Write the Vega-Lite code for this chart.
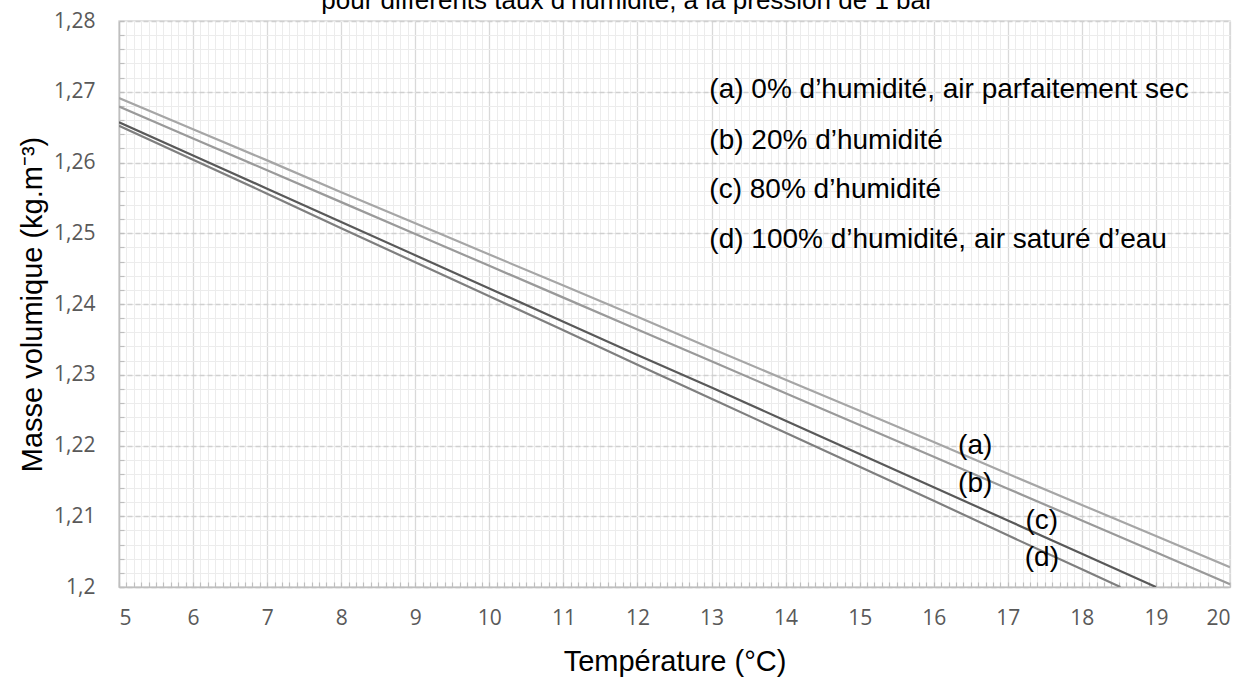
{
  "$schema": "https://vega.github.io/schema/vega-lite/v6.json",
  "autosize": {"type": "none"},
  "width": 1111,
  "height": 566,
  "padding": {"left": 119, "top": 21, "right": 21, "bottom": 95},
  "background": "white",
  "title": {
    "text": "pour différents taux d’humidité, à la pression de 1 bar",
    "font": "Liberation Sans",
    "fontSize": 26,
    "fontWeight": "normal",
    "color": "#000000",
    "anchor": "middle",
    "frame": "group",
    "baseline": "alphabetic",
    "offset": -25,
    "dx": -47
  },
  "config": {
    "view": {"stroke": "#d9d9d9", "strokeWidth": 1.5},
    "axis": {"labelFont": "Open Sans", "titleFont": "Liberation Sans"}
  },
  "datasets": {
    "lines": [
      {"serie": "a", "t": 5, "rho": 1.2691}, {"serie": "a", "t": 6, "rho": 1.2647}, {"serie": "a", "t": 7, "rho": 1.2603}, {"serie": "a", "t": 8, "rho": 1.2558},
      {"serie": "a", "t": 9, "rho": 1.2514}, {"serie": "a", "t": 10, "rho": 1.2470}, {"serie": "a", "t": 11, "rho": 1.2426}, {"serie": "a", "t": 12, "rho": 1.2382},
      {"serie": "a", "t": 13, "rho": 1.2337}, {"serie": "a", "t": 14, "rho": 1.2293}, {"serie": "a", "t": 15, "rho": 1.2249}, {"serie": "a", "t": 16, "rho": 1.2205},
      {"serie": "a", "t": 17, "rho": 1.2160}, {"serie": "a", "t": 18, "rho": 1.2116}, {"serie": "a", "t": 19, "rho": 1.2072}, {"serie": "a", "t": 20, "rho": 1.2028},
      {"serie": "b", "t": 5, "rho": 1.2679}, {"serie": "b", "t": 6, "rho": 1.2634}, {"serie": "b", "t": 7, "rho": 1.2589}, {"serie": "b", "t": 8, "rho": 1.2544},
      {"serie": "b", "t": 9, "rho": 1.2499}, {"serie": "b", "t": 10, "rho": 1.2454}, {"serie": "b", "t": 11, "rho": 1.2409}, {"serie": "b", "t": 12, "rho": 1.2364},
      {"serie": "b", "t": 13, "rho": 1.2319}, {"serie": "b", "t": 14, "rho": 1.2274}, {"serie": "b", "t": 15, "rho": 1.2229}, {"serie": "b", "t": 16, "rho": 1.2184},
      {"serie": "b", "t": 17, "rho": 1.2139}, {"serie": "b", "t": 18, "rho": 1.2094}, {"serie": "b", "t": 19, "rho": 1.2049}, {"serie": "b", "t": 20, "rho": 1.2004},
      {"serie": "c", "t": 5, "rho": 1.2657}, {"serie": "c", "t": 6, "rho": 1.2610}, {"serie": "c", "t": 7, "rho": 1.2563}, {"serie": "c", "t": 8, "rho": 1.2516},
      {"serie": "c", "t": 9, "rho": 1.2469}, {"serie": "c", "t": 10, "rho": 1.2422}, {"serie": "c", "t": 11, "rho": 1.2375}, {"serie": "c", "t": 12, "rho": 1.2328},
      {"serie": "c", "t": 13, "rho": 1.2282}, {"serie": "c", "t": 14, "rho": 1.2235}, {"serie": "c", "t": 15, "rho": 1.2188}, {"serie": "c", "t": 16, "rho": 1.2141},
      {"serie": "c", "t": 17, "rho": 1.2094}, {"serie": "c", "t": 18, "rho": 1.2047}, {"serie": "c", "t": 19, "rho": 1.2000},
      {"serie": "d", "t": 5, "rho": 1.2652}, {"serie": "d", "t": 6, "rho": 1.2604}, {"serie": "d", "t": 7, "rho": 1.2556}, {"serie": "d", "t": 8, "rho": 1.2507},
      {"serie": "d", "t": 9, "rho": 1.2459}, {"serie": "d", "t": 10, "rho": 1.2411}, {"serie": "d", "t": 11, "rho": 1.2363}, {"serie": "d", "t": 12, "rho": 1.2314},
      {"serie": "d", "t": 13, "rho": 1.2266}, {"serie": "d", "t": 14, "rho": 1.2218}, {"serie": "d", "t": 15, "rho": 1.2170}, {"serie": "d", "t": 16, "rho": 1.2122},
      {"serie": "d", "t": 17, "rho": 1.2073}, {"serie": "d", "t": 18, "rho": 1.2025}, {"serie": "d", "t": 18.52, "rho": 1.2000}
    ],
    "labels": [
      {"label": "(a)", "t": 16.56, "rho": 1.2199},
      {"label": "(b)", "t": 16.56, "rho": 1.2146},
      {"label": "(c)", "t": 17.46, "rho": 1.2093},
      {"label": "(d)", "t": 17.46, "rho": 1.2041}
    ],
    "legend": [
      {"label": "(a) 0% d’humidité, air parfaitement sec", "t": 12.97, "rho": 1.2702},
      {"label": "(b) 20% d’humidité", "t": 12.97, "rho": 1.2631},
      {"label": "(c) 80% d’humidité", "t": 12.97, "rho": 1.2561},
      {"label": "(d) 100% d’humidité, air saturé d’eau", "t": 12.97, "rho": 1.2490}
    ]
  },
  "layer": [
    {
      "data": {"name": "lines"},
      "mark": {"type": "line", "strokeWidth": 2.2, "clip": true},
      "encoding": {
        "x": {
          "field": "t", "type": "quantitative",
          "scale": {"domain": [5, 20], "nice": false, "zero": false},
          "axis": {
            "orient": "bottom", "tickCount": 150, "labels": false, "domain": false, "title": null,
            "grid": true, "gridColor": "#ececec", "gridWidth": 1,
            "ticks": true, "tickSize": -5, "tickColor": "#bfbfbf", "tickWidth": 1.2
          }
        },
        "y": {
          "field": "rho", "type": "quantitative",
          "scale": {"domain": [1.2, 1.28], "nice": false, "zero": false},
          "axis": {
            "orient": "left", "tickCount": 40, "labels": false, "domain": false, "title": null,
            "grid": true, "gridColor": "#ececec", "gridWidth": 1,
            "ticks": true, "tickSize": -5, "tickColor": "#bfbfbf", "tickWidth": 1.2
          }
        },
        "color": {
          "field": "serie", "type": "nominal", "legend": null,
          "scale": {"domain": ["a", "b", "c", "d"], "range": ["#a6a6a6", "#9a9a9a", "#595959", "#7f7f7f"]}
        },
        "detail": {"field": "serie"}
      }
    },
    {
      "data": {"name": "labels"},
      "mark": {"type": "text", "font": "Liberation Sans", "fontSize": 28, "color": "#000000", "align": "center", "baseline": "middle"},
      "encoding": {
        "x": {
          "field": "t", "type": "quantitative",
          "scale": {"domain": [5, 20], "nice": false, "zero": false},
          "axis": {
            "orient": "bottom",
            "values": [5, 6, 7, 8, 9, 10, 11, 12, 13, 14, 15, 16, 17, 18, 19, 20],
            "grid": true, "gridColor": "#d9d9d9", "gridWidth": 1.3,
            "domain": true, "domainColor": "#bfbfbf", "domainWidth": 1.5,
            "ticks": false, "labelPadding": 20,
            "labelFont": "Open Sans", "labelFontSize": 21, "labelColor": "#595959",
            "title": "Température (°C)", "titleFontSize": 29, "titleFontWeight": "normal",
            "titleColor": "#000000", "titlePadding": 19
          }
        },
        "y": {
          "field": "rho", "type": "quantitative",
          "scale": {"domain": [1.2, 1.28], "nice": false, "zero": false},
          "axis": {
            "orient": "left",
            "values": [1.2, 1.21, 1.22, 1.23, 1.24, 1.25, 1.26, 1.27, 1.28],
            "labelExpr": "replace(format(datum.value, '.2~f'), '.', ',')",
            "grid": true, "gridColor": "#d0d0d0", "gridWidth": 1.3, "gridDash": [5, 3],
            "domain": true, "domainColor": "#bfbfbf", "domainWidth": 1.5,
            "ticks": false, "labelPadding": 24,
            "labelFont": "Open Sans", "labelFontSize": 21, "labelColor": "#595959",
            "title": "Masse volumique (kg.m⁻³)", "titleFontSize": 29, "titleFontWeight": "normal",
            "titleColor": "#000000", "titlePadding": 6
          }
        },
        "text": {"field": "label"}
      }
    },
    {
      "data": {"name": "legend"},
      "mark": {"type": "text", "font": "Liberation Sans", "fontSize": 28, "color": "#000000", "align": "left", "baseline": "middle"},
      "encoding": {
        "x": {"field": "t", "type": "quantitative", "scale": {"domain": [5, 20], "nice": false, "zero": false}, "axis": null},
        "y": {"field": "rho", "type": "quantitative", "scale": {"domain": [1.2, 1.28], "nice": false, "zero": false}, "axis": null},
        "text": {"field": "label"}
      }
    }
  ],
  "resolve": {"axis": {"x": "independent", "y": "independent"}}
}
